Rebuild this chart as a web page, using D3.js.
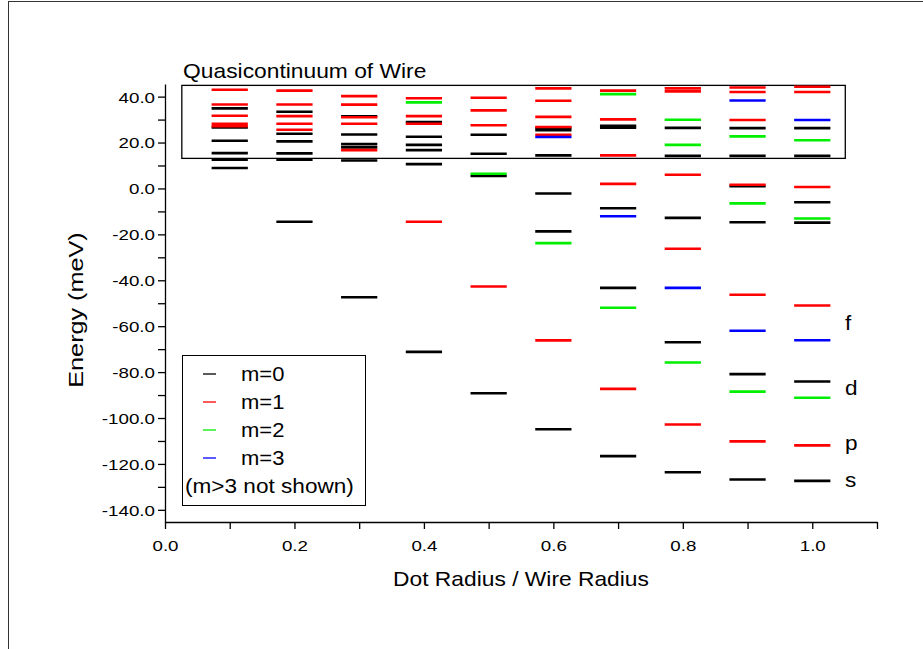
<!DOCTYPE html>
<html>
<head>
<meta charset="utf-8">
<script src="https://cdn.jsdelivr.net/npm/d3@7"></script>
<style>
  body { margin: 0; background: #fff; }
  svg { display: block; }
  svg text { font-family: "Liberation Sans", Arial, sans-serif; fill: #000; }
  .axis path, .axis line { stroke: #000; stroke-width: 1.3; }
  .axis text { font-size: 15px; font-family: "Liberation Sans", Arial, sans-serif; }
</style>
</head>
<body>
<svg width="923" height="649"></svg>
<script>
// dot radius / wire radius of each column
const radii = [0.1, 0.2, 0.3, 0.4, 0.5, 0.6, 0.7, 0.8, 0.9, 1.0];

// energy levels (meV), one list per column, for each m
const m0Levels = [
  [34.9, 26.6, 20.8, 15.4, 12.5, 8.9],
  [33.4, 23.8, 20.5, 15.3, 12.5, -14.5],
  [31.4, 23.5, 19.3, 17.9, 12.2, -47.4],
  [28.9, 22.5, 19.0, 16.7, 10.6, -71.2],
  [23.4, 15.1, 5.4, -89.2],
  [26.4, 25.4, 14.4, -2.2, -18.7, -104.9],
  [27.3, 26.5, -8.6, -43.3, -116.6],
  [26.4, 14.2, -12.8, -67.0, -123.6],
  [26.3, 14.2, 1.0, -14.7, -80.9, -126.8],
  [26.3, 14.2, -6.0, -14.9, -84.1, -127.4]
];
const m1Levels = [
  [43.0, 36.6, 31.7, 28.2, 27.1],
  [42.6, 36.6, 31.5, 28.2, 25.6],
  [40.2, 36.5, 31.0, 28.2, 16.7],
  [39.3, 31.5, 28.2, -14.5],
  [39.5, 34.0, 27.5, -42.7],
  [43.6, 38.2, 31.2, 26.8, 23.4, -66.2],
  [42.6, 30.1, 14.4, 2.0, -87.3],
  [43.6, 42.3, 6.0, -26.3, -102.8],
  [44.0, 42.0, 29.8, 1.6, -46.3, -110.2],
  [44.3, 42.0, 0.6, -51.0, -111.9]
];
const m2Levels = [
  [], [], [], [37.5], [6.4],
  [-23.8],
  [41.1, -52.0],
  [29.9, 19.0, -75.8],
  [22.7, -6.5, -88.5],
  [21.0, -13.1, -91.2]
];
const m3Levels = [
  [], [], [], [], [],
  [22.4],
  [-12.1],
  [-43.3],
  [38.3, -62.0],
  [29.8, -66.1]
];

const seriesNames = ["m=0", "m=1", "m=2", "m=3"];
const seriesColors = ["#000000", "#ff0000", "#00ee00", "#0000ff"];
const seriesLevels = [m0Levels, m1Levels, m2Levels, m3Levels];

const waveLabels = [["f", -61], ["d", -89], ["p", -113], ["s", -129]];

const svg = d3.select("svg");

// text that is a bit wider than the font, like the original
function wideText(parent, tx, ty, str, size, sx, anchor) {
  return parent.append("text")
    .attr("transform", "translate(" + tx + "," + ty + ") scale(" + sx + ",1)")
    .attr("font-size", size)
    .attr("text-anchor", anchor || "start")
    .text(str);
}

// outer frame
svg.append("rect")
  .attr("x", 8.5).attr("y", 1.5)
  .attr("width", 940).attr("height", 660)
  .attr("fill", "none").attr("stroke", "#333").attr("stroke-width", 1);

const x = d3.scaleLinear().domain([0, 1.1]).range([165, 877]);
const y = d3.scaleLinear().domain([-145.3, 45.5]).range([522, 84]);
const fmt = function(d) { return d3.format(".1f")(d).replace("\u2212", "-"); };
const sxTick = 1.25;

// x axis
const xAxis = svg.append("g")
  .attr("class", "axis")
  .attr("transform", "translate(0," + y(-145.3) + ")")
  .call(d3.axisBottom(x).tickValues(d3.range(0, 1.101, 0.1)).tickSize(7).tickSizeOuter(0)
    .tickFormat(function(d) { return Math.round(d * 10) % 2 === 0 ? fmt(d) : ""; }));
xAxis.selectAll("text").attr("dy", "1.3em").attr("transform", "scale(" + sxTick + ",1)");

// y axis
const yAxis = svg.append("g")
  .attr("class", "axis")
  .attr("transform", "translate(" + x(0) + ",0)")
  .call(d3.axisLeft(y).tickValues(d3.range(-140, 41, 10)).tickSize(7).tickSizeOuter(0)
    .tickFormat(function(d) { return d % 20 === 0 ? fmt(d) : ""; }));
yAxis.selectAll("text").attr("x", -10 / sxTick).attr("dy", "0.36em")
  .attr("transform", "scale(" + sxTick + ",1)");

// axis titles
wideText(svg, (x(0) + x(1.1)) / 2, 586, "Dot Radius / Wire Radius", 20, 1.14, "middle");
svg.append("text")
  .attr("transform", "translate(83,310) rotate(-90) scale(1.2,1)")
  .attr("text-anchor", "middle").attr("font-size", 21)
  .text("Energy (meV)");

// quasicontinuum box
svg.append("rect")
  .attr("x", x(0.026)).attr("y", y(44.9))
  .attr("width", x(1.051) - x(0.026)).attr("height", y(13.1) - y(44.9))
  .attr("fill", "none").attr("stroke", "#000").attr("stroke-width", 1.3);
wideText(svg, x(0.028), 78, "Quasicontinuum of Wire", 20, 1.14);

// energy levels
const hw = 0.028;
seriesLevels.forEach(function(levels, m) {
  const flat = [];
  levels.forEach(function(list, i) {
    list.forEach(function(e) { flat.push({ r: radii[i], e: e }); });
  });
  svg.append("g").selectAll("line")
    .data(flat)
    .enter().append("line")
    .attr("x1", function(d) { return x(d.r - hw); })
    .attr("x2", function(d) { return x(d.r + hw); })
    .attr("y1", function(d) { return y(d.e); })
    .attr("y2", function(d) { return y(d.e); })
    .attr("stroke", seriesColors[m])
    .attr("stroke-width", 2.6);
});

// orbital labels
waveLabels.forEach(function(d) {
  wideText(svg, 845, y(d[1]) + 2, d[0], 20, 1.13);
});

// legend
const lg = svg.append("g");
lg.append("rect")
  .attr("x", 182.5).attr("y", 355.5).attr("width", 183).attr("height", 150)
  .attr("fill", "#fff").attr("stroke", "#000").attr("stroke-width", 1);
seriesNames.forEach(function(name, i) {
  const yy = 374 + i * 28;
  lg.append("line")
    .attr("x1", 203).attr("x2", 216).attr("y1", yy).attr("y2", yy)
    .attr("stroke", seriesColors[i]).attr("stroke-width", 1.3);
  wideText(lg, 241, yy + 7, name, 20, 1.1);
});
wideText(lg, 185, 493, "(m>3 not shown)", 20, 1.13);
</script>
</body>
</html>
